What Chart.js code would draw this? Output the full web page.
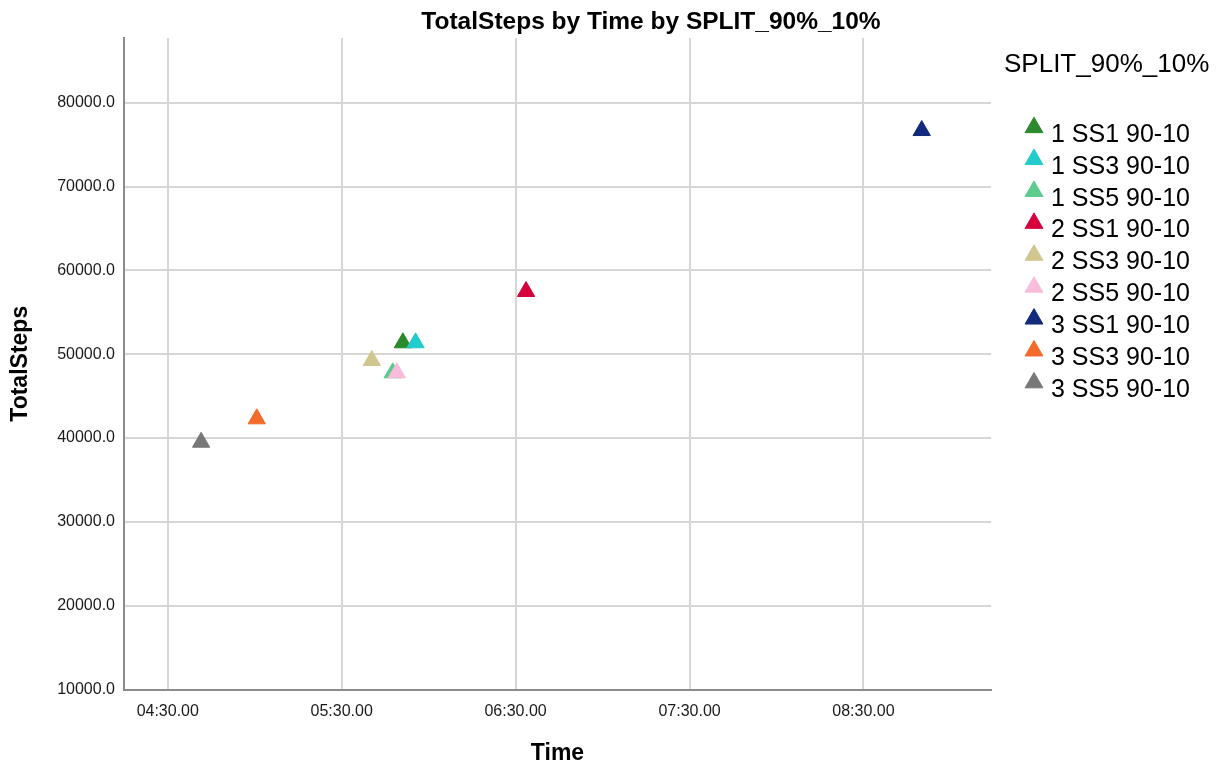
<!DOCTYPE html>
<html>
<head>
<meta charset="utf-8">
<script src="https://cdn.jsdelivr.net/npm/chart.js@4/dist/chart.umd.min.js"></script>
<style>
  html, body { margin: 0; padding: 0; background: #ffffff; }
  #wrap { width: 1220px; height: 769px; }
</style>
</head>
<body>
<div id="wrap"><canvas id="c" width="1220" height="769"></canvas></div>
<script>
// ---- Data ----
const chartTitle = 'TotalSteps by Time by SPLIT_90%_10%';
const legendTitle = 'SPLIT_90%_10%';
const xAxisTitle = 'Time';
const yAxisTitle = 'TotalSteps';

const seriesLabels = ['1 SS1 90-10', '1 SS3 90-10', '1 SS5 90-10', '2 SS1 90-10', '2 SS3 90-10', '2 SS5 90-10', '3 SS1 90-10', '3 SS3 90-10', '3 SS5 90-10'];
// time in minutes (04:30 = 270)
const timeValues = [351.1, 355.5, 347.6, 393.6, 340.4, 349.0, 530.1, 300.7, 281.5];
const stepValues = [51360, 51360, 47780, 57480, 49250, 47780, 76680, 42290, 39500];

const xTickValues = [270, 330, 390, 450, 510];
const xTickLabels = ['04:30.00', '05:30.00', '06:30.00', '07:30.00', '08:30.00'];
const yTickValues = [10000, 20000, 30000, 40000, 50000, 60000, 70000, 80000];
const yTickLabels = ['10000.0', '20000.0', '30000.0', '40000.0', '50000.0', '60000.0', '70000.0', '80000.0'];

const xMin = 254.9, xMax = 554.0;
const yMin = 10000, yMax = 87720;

// ---- Styles ----
const seriesColors = ['#2b8a2b', '#22cccc', '#5dcb8e', '#d5003b', '#d1c78e', '#f9bcdb', '#112a7c', '#f36a2a', '#787878'];
const FONT = '"Liberation Sans", Arial, sans-serif';

const datasets = seriesLabels.map((lab, i) => ({
  label: lab,
  data: [{ x: timeValues[i], y: stepValues[i] }],
  pointStyle: 'triangle',
  pointRadius: 10,
  pointHoverRadius: 10,
  pointBackgroundColor: seriesColors[i],
  pointBorderColor: seriesColors[i],
  pointBorderWidth: 1,
  showLine: false,
  order: seriesLabels.length - i
}));

const overlayPlugin = {
  id: 'overlay',
  afterDraw(chart) {
    const ctx = chart.ctx;
    ctx.save();
    // chart title
    ctx.fillStyle = '#000000';
    ctx.font = 'bold 24.5px ' + FONT;
    ctx.textAlign = 'center';
    ctx.textBaseline = 'alphabetic';
    ctx.fillText(chartTitle, 651, 28.5);
    // legend title
    ctx.font = '26px ' + FONT;
    ctx.textAlign = 'left';
    ctx.fillText(legendTitle, 1004, 72);
    // legend items
    chart.data.datasets.forEach((ds, i) => {
      const base = 141.7 + i * 31.9;
      ctx.fillStyle = ds.pointBackgroundColor;
      ctx.strokeStyle = ds.pointBorderColor;
      ctx.lineWidth = 1;
      Chart.helpers.drawPoint(ctx, { pointStyle: 'triangle', radius: 10.3, borderWidth: 1, rotation: 0 }, 1034, base - 14.2);
      ctx.fillStyle = '#000000';
      ctx.font = '25px ' + FONT;
      ctx.textAlign = 'left';
      ctx.fillText(ds.label, 1051, base);
    });
    ctx.restore();
  }
};

new Chart(document.getElementById('c'), {
  type: 'scatter',
  data: { datasets },
  plugins: [overlayPlugin],
  options: {
    responsive: false,
    animation: false,
    devicePixelRatio: 1,
    layout: { padding: { top: 38, right: 229, bottom: 0, left: 0 } },
    plugins: {
      legend: { display: false },
      title: { display: false },
      tooltip: { enabled: false }
    },
    scales: {
      x: {
        type: 'linear',
        min: xMin,
        max: xMax,
        afterBuildTicks(scale) { scale.ticks = xTickValues.map(v => ({ value: v })); },
        afterFit(scale) { scale.height = 79.5; },
        ticks: {
          padding: 12,
          color: '#1a1a1a',
          font: { family: FONT, size: 16 },
          maxRotation: 0,
          autoSkip: false,
          callback(v) { const k = xTickValues.indexOf(v); return k >= 0 ? xTickLabels[k] : ''; }
        },
        grid: { color: '#d6d6d6', lineWidth: 2, drawTicks: false },
        border: { display: true, color: '#8c8c8c', width: 2 },
        title: {
          display: true,
          text: xAxisTitle,
          color: '#000000',
          font: { family: FONT, size: 23, weight: 'bold' },
          padding: { top: 0, bottom: 2 }
        }
      },
      y: {
        type: 'linear',
        min: yMin,
        max: yMax,
        afterBuildTicks(scale) { scale.ticks = yTickValues.map(v => ({ value: v })); },
        afterFit(scale) { scale.width = 124; },
        ticks: {
          padding: 9,
          color: '#1a1a1a',
          font: { family: FONT, size: 16 },
          autoSkip: false,
          callback(v) { const k = yTickValues.indexOf(v); return k >= 0 ? yTickLabels[k] : ''; }
        },
        grid: { color: '#d6d6d6', lineWidth: 2, drawTicks: false },
        border: { display: true, color: '#8c8c8c', width: 2 },
        title: {
          display: true,
          text: yAxisTitle,
          color: '#000000',
          font: { family: FONT, size: 23, weight: 'bold' },
          padding: { top: 7, bottom: 0 }
        }
      }
    }
  }
});
</script>
</body>
</html>
